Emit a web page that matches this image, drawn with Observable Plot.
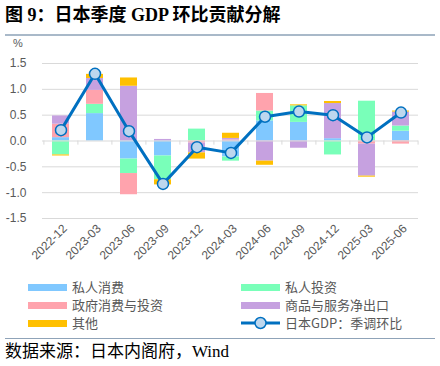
<!DOCTYPE html>
<html><head><meta charset="utf-8">
<script src="https://cdn.jsdelivr.net/npm/d3@7"></script>
<script src="https://cdn.jsdelivr.net/npm/@observablehq/plot@0.6"></script>
<style>
body{margin:0;width:440px;height:366px;position:relative;background:#fff;overflow:hidden;font-family:"Noto Sans CJK SC",sans-serif;}
#title{position:absolute;left:5px;top:4px;font:bold 18px/22px "Liberation Serif","Noto Sans CJK SC";color:#000;white-space:nowrap;}
#tline{position:absolute;left:5px;top:34px;width:430px;height:2px;background:#a9b9c9;}
#unit{position:absolute;left:13px;top:36px;font:11px/14px "Liberation Sans";color:#595959;}
#chart{position:absolute;left:0;top:36px;}
.lg{position:absolute;font-size:13px;line-height:16px;color:#595959;white-space:nowrap;}
.sw{position:absolute;width:39px;height:7px;}
#bline{position:absolute;left:5px;top:338px;width:430px;height:1px;background:#8fa3b8;}
#source{position:absolute;left:5px;top:341px;font:17px/22px "Liberation Serif","Noto Sans CJK SC";color:#000;white-space:nowrap;}
</style></head>
<body>
<div id="title">图 9：日本季度 GDP 环比贡献分解</div>
<div id="tline"></div>
<div id="unit">%</div>
<div id="chart"></div>
<div id="legend"></div>
<div id="bline"></div>
<div id="source">数据来源：日本内阁府，Wind</div>
<script>
const quarters = ["2022-12","2023-03","2023-06","2023-09","2023-12","2024-03","2024-06","2024-09","2024-12","2025-03","2025-06"];
const seriesNames = ["私人消费","私人投资","政府消费与投资","商品与服务净出口","其他"];
const seriesColors = ["#80C8FF","#79FFB9","#FFA3AD","#C6A1E0","#FFC000"];
const privateConsumption = [0.065, 0.53, -0.35, -0.29, 0.00, -0.31, 0.39, 0.36, 0.045, 0.00, 0.19];
const privateInvestment  = [-0.27, 0.18, -0.28, -0.46, 0.23, -0.08, 0.19, 0.32, -0.27, 0.77, 0.10];
const government         = [0.26, 0.27, -0.41, 0.00, -0.04, 0.02, 0.34, 0.00, 0.00, -0.06, -0.06];
const netExports         = [0.16, 0.23, 1.06, 0.03, -0.19, 0.03, -0.39, -0.14, 0.68, -0.62, 0.27];
const other              = [-0.02, 0.08, 0.16, -0.10, -0.12, 0.10, -0.08, 0.02, 0.04, -0.02, 0.02];
const gdp                = [0.21, 1.30, 0.19, -0.83, -0.12, -0.23, 0.47, 0.57, 0.50, 0.07, 0.55];
const gdpName = "日本GDP：季调环比";
const yTicks = [-1.5, -1.0, -0.5, 0, 0.5, 1.0, 1.5];

const seriesValues = [privateConsumption, privateInvestment, government, netExports, other];
const rows = [];
quarters.forEach((q, i) => {
  seriesNames.forEach((s, j) => rows.push({quarter: q, series: s, value: seriesValues[j][i]}));
});
const gdpRows = quarters.map((q, i) => ({quarter: q, value: gdp[i]}));

const W = 440, ML = 42, MR = 22;
const step = (W - ML - MR) / quarters.length;

const chart = Plot.plot({
  width: W, height: 240,
  marginTop: 27, marginBottom: 58, marginLeft: ML, marginRight: MR,
  style: {background: "transparent", fontFamily: "Liberation Sans"},
  x: {domain: quarters, type: "band", paddingInner: 0.5, paddingOuter: 0.25},
  y: {domain: [-1.5, 1.5]},
  color: {domain: seriesNames, range: seriesColors},
  marks: [
    Plot.ruleY(yTicks.filter(d => d !== 0), {stroke: "#d9d9d9", strokeWidth: 1}),
    Plot.axisY(yTicks, {tickSize: 0, tickPadding: 16, tickFormat: d => d.toFixed(1), fontSize: 12, fill: "#595959", label: null}),
    Plot.axisX({tickRotate: -45, tickSize: 0, tickPadding: 8, dx: 4, fontSize: 12, fill: "#595959", label: null}),
    Plot.barY(rows, {x: "quarter", y: "value", fill: "series"}),
    Plot.ruleY([0], {stroke: "#d9d9d9", strokeWidth: 1}),
    Plot.ruleX(quarters, {x: d => d, dx: -step / 2, y1: 0, y2: -0.08, stroke: "#d9d9d9"}),
    Plot.ruleX(quarters.slice(-1), {x: d => d, dx: step / 2, y1: 0, y2: -0.08, stroke: "#d9d9d9"}),
    Plot.lineY(gdpRows, {x: "quarter", y: "value", stroke: "#0070C0", strokeWidth: 3}),
    Plot.dot(gdpRows, {x: "quarter", y: "value", r: 5.5, fill: "#BDD7EE", stroke: "#0070C0", strokeWidth: 1.5})
  ]
});
document.getElementById("chart").appendChild(chart);

// legend
const lg = document.getElementById("legend");
const pos = [[28, 287], [241, 287], [28, 305], [241, 305], [28, 323]];
seriesNames.forEach((s, j) => {
  const [x, y] = pos[j];
  const sw = document.createElement("div");
  sw.className = "sw";
  sw.style.left = x + "px"; sw.style.top = (y - 3.5) + "px";
  sw.style.background = seriesColors[j];
  lg.appendChild(sw);
  const t = document.createElement("div");
  t.className = "lg"; t.textContent = s;
  t.style.left = (x + 44) + "px"; t.style.top = (y - 8) + "px";
  lg.appendChild(t);
});
const gx = 241, gy = 323;
const svgNS = "http://www.w3.org/2000/svg";
const gs = document.createElementNS(svgNS, "svg");
gs.setAttribute("width", 44); gs.setAttribute("height", 16);
gs.style.position = "absolute"; gs.style.left = (gx - 2) + "px"; gs.style.top = (gy - 8) + "px";
gs.innerHTML = '<line x1="2" x2="41" y1="8" y2="8" stroke="#0070C0" stroke-width="3"/><circle cx="21.5" cy="8" r="5.5" fill="#BDD7EE" stroke="#0070C0" stroke-width="1.5"/>';
lg.appendChild(gs);
const gt = document.createElement("div");
gt.className = "lg"; gt.textContent = gdpName;
gt.style.left = (gx + 44) + "px"; gt.style.top = (gy - 8) + "px";
lg.appendChild(gt);
</script>
</body></html>
